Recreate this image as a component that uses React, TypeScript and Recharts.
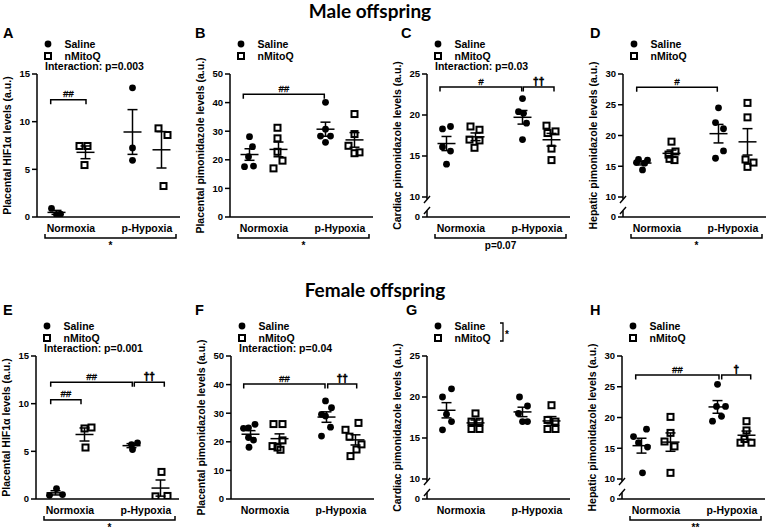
import React from 'react';
import { ScatterChart, Scatter, XAxis, YAxis, ErrorBar, ReferenceLine } from 'recharts';

const categories = ['Normoxia', 'p-Hypoxia'];
const treatments = ['Saline', 'nMitoQ'];

// Each array: [Normoxia values, p-Hypoxia values]
// A – male placental HIF1α
const maleHifSaline = [[0.9, 0.25, 0.3], [13.55, 7.25, 5.95]];
const maleHifMitoQ = [[7.45, 7.45, 5.45], [9.3, 8.6, 3.25]];
// B – male placental pimonidazole
const malePlacPimoSaline = [[28.1, 24.6, 21.1, 17.6, 17.8], [40.1, 30.7, 28.3, 28.3, 26.1]];
const malePlacPimoMitoQ = [[31.2, 27.5, 22.8, 19.7, 17.0], [36.0, 29.0, 24.9, 22.3, 22.6]];
// C – male cardiac pimonidazole
const maleCardPimoSaline = [[18.3, 18.6, 16.1, 15.6, 14.0], [22.0, 20.4, 20.2, 19.0, 17.0]];
const maleCardPimoMitoQ = [[18.6, 18.2, 17.0, 16.9, 16.0], [18.7, 18.0, 17.8, 15.9, 14.5]];
// D – male hepatic pimonidazole
const maleHepPimoSaline = [[16.1, 16.0, 15.6, 15.5, 14.4], [24.5, 22.1, 21.1, 17.5, 16.3]];
const maleHepPimoMitoQ = [[19.0, 17.4, 16.9, 16.2, 16.0], [25.3, 22.95, 16.1, 15.6, 14.9]];
// E – female placental HIF1α
const femaleHifSaline = [[0.39, 1.09, 0.46], [5.71, 5.89, 5.19]];
const femaleHifMitoQ = [[7.4, 7.5, 5.4], [2.84, 0.28, 0.32]];
// F – female placental pimonidazole
const femalePlacPimoSaline = [[26.1, 24.9, 24.7, 21.5, 20.6, 18.1], [34.3, 31.9, 29.6, 29.0, 25.1, 22.0]];
const femalePlacPimoMitoQ = [[26.2, 26.2, 20.5, 18.5, 18.0, 17.2], [26.6, 24.2, 21.8, 19.1, 17.3, 15.0]];
// G – female cardiac pimonidazole
const femaleCardPimoSaline = [[21.0, 20.0, 17.9, 17.0, 16.0], [20.0, 18.9, 18.0, 17.0, 17.0]];
const femaleCardPimoMitoQ = [[18.0, 17.0, 17.0, 16.1, 16.1], [19.0, 17.2, 17.0, 16.1, 16.1]];
// H – female hepatic pimonidazole
const femaleHepPimoSaline = [[18.1, 16.9, 15.9, 15.2, 11.0], [25.4, 21.8, 21.8, 20.2, 19.4]];
const femaleHepPimoMitoQ = [[20.1, 17.5, 16.1, 15.3, 11.0], [19.4, 17.9, 16.5, 15.9, 15.9]];

// horizontal scatter (jitter) of the individual points
const jitA = { s: [[-5, 0, 4], [0, 0, 0]], m: [[-6, 2, -1], [-3, 6, 2]] };
const jitB = { s: [[0, 3, -1, -5, 4], [0, 0, -5, 5, 0]], m: [[-1, -1, -1, 4, -5], [0, 0, -6, 0, 5]] };
const jitC = { s: [[-4, 4, -4, 4, 0], [0, -4, 1, 4, 0]], m: [[-5, 4, -6, 4, -1], [-5, 4, -4, 0, 0]] };
const jitD = { s: [[-4, 5, -6, 2, 0], [0, -3, 5, 5, -3]], m: [[0, 4, -3, -2, 3], [0, 0, -2, 6, 0]] };
const jitE = { s: [[-6, 1, 7], [0, 6, 1]], m: [[0, 7, 1], [1, -5, 7]] };
const jitF = { s: [[4.5, -2, -7, -2, 3, -1.5], [-1, 5, -5, -1, 4, -5]], m: [[-6, 3, 3, -7, -2, 1], [3, -10, -6, 6, 1, -5]] };
const jitG = { s: [[5, -4, 0, 5, -4], [-3, 5, -4, 0, 5]], m: [[0, -4, 4, -4, 4], [0, -4, 4, -4, 4]] };
const jitH = { s: [[5, -8, -3, 6, 1], [0, -1, 8, 4, -5]], m: [[0, 0, -6, 4, 0], [0, 0, -2, -6, 5]] };

const FONT = '"Liberation Sans", Arial, Helvetica, sans-serif';
const PLOT_W = 143;
const PLOT_H = 143;
const YAXIS_W = 36;
const TOP = 10;
const XAXIS_H = 42;
const RIGHT = 4;
const CHART_W = YAXIS_W + PLOT_W + RIGHT;
const CHART_H = TOP + PLOT_H + XAXIS_H;
const CAT_X = [34, 110];
const SHIFT = [-14.5, 14.5];

type Bracket = { x1: number; x2: number; y: number; text: string };
type PanelCfg = {
  letter: string;
  letterX: number;
  axisX: number;
  plotTop: number;
  domain: [number, number];
  ticks: number[];
  broken: boolean;
  yLabel: string;
  interaction?: string;
  saline: number[][];
  mitoq: number[][];
  jit: { s: number[][]; m: number[][] };
  brackets: Bracket[];
  bottom?: string;
  legendStar?: boolean;
};

const panels: PanelCfg[] = [
  {
    letter: 'A', letterX: 3, axisX: 37, plotTop: 74, domain: [0, 15], ticks: [0, 5, 10, 15], broken: false,
    yLabel: 'Placental HIF1α levels (a.u.)', interaction: 'Interaction: p=0.003',
    saline: maleHifSaline, mitoq: maleHifMitoQ, jit: jitA,
    brackets: [{ x1: 13.7, x2: 49, y: 12.3, text: '##' }], bottom: '*',
  },
  {
    letter: 'B', letterX: 195, axisX: 230, plotTop: 74, domain: [0, 50], ticks: [0, 10, 20, 30, 40, 50], broken: false,
    yLabel: 'Placental pimonidazole levels (a.u.)',
    saline: malePlacPimoSaline, mitoq: malePlacPimoMitoQ, jit: jitB,
    brackets: [{ x1: 13.3, x2: 94.3, y: 42.9, text: '##' }], bottom: '*',
  },
  {
    letter: 'C', letterX: 401, axisX: 427, plotTop: 74, domain: [7.56, 25], ticks: [7.56, 10, 15, 20, 25], broken: true,
    yLabel: 'Cardiac pimonidazole levels (a.u.)', interaction: 'Interaction: p=0.03',
    saline: maleCardPimoSaline, mitoq: maleCardPimoMitoQ, jit: jitC,
    brackets: [{ x1: 13, x2: 94.7, y: 23.4, text: '#' }, { x1: 96.3, x2: 127, y: 23.4, text: '††' }], bottom: 'p=0.07',
  },
  {
    letter: 'D', letterX: 590, axisX: 623, plotTop: 74, domain: [6.75, 30], ticks: [6.75, 10, 15, 20, 25, 30], broken: true,
    yLabel: 'Hepatic pimonidazole levels (a.u.)',
    saline: maleHepPimoSaline, mitoq: maleHepPimoMitoQ, jit: jitD,
    brackets: [{ x1: 13.7, x2: 94.3, y: 27.85, text: '#' }], bottom: '*',
  },
  {
    letter: 'E', letterX: 3, axisX: 36, plotTop: 356, domain: [0, 15], ticks: [0, 5, 10, 15], broken: false,
    yLabel: 'Placental HIF1α levels (a.u.)', interaction: 'Interaction: p=0.001',
    saline: femaleHifSaline, mitoq: femaleHifMitoQ, jit: jitE,
    brackets: [
      { x1: 14.7, x2: 96.3, y: 12.25, text: '##' },
      { x1: 14.7, x2: 45, y: 10.4, text: '##' },
      { x1: 98.3, x2: 128.3, y: 12.25, text: '††' },
    ],
    bottom: '*',
  },
  {
    letter: 'F', letterX: 195, axisX: 231, plotTop: 356, domain: [0, 50], ticks: [0, 10, 20, 30, 40, 50], broken: false,
    yLabel: 'Placental pimonidazole levels (a.u.)', interaction: 'Interaction: p=0.04',
    saline: femalePlacPimoSaline, mitoq: femalePlacPimoMitoQ, jit: jitF,
    brackets: [{ x1: 12.7, x2: 94, y: 40.2, text: '##' }, { x1: 96.7, x2: 125.7, y: 40.2, text: '††' }],
  },
  {
    letter: 'G', letterX: 406, axisX: 427, plotTop: 356, domain: [7.56, 25], ticks: [7.56, 10, 15, 20, 25], broken: true,
    yLabel: 'Cardiac pimonidazole levels (a.u.)',
    saline: femaleCardPimoSaline, mitoq: femaleCardPimoMitoQ, jit: jitG,
    brackets: [], legendStar: true,
  },
  {
    letter: 'H', letterX: 590, axisX: 622, plotTop: 356, domain: [6.75, 30], ticks: [6.75, 10, 15, 20, 25, 30], broken: true,
    yLabel: 'Hepatic pimonidazole levels (a.u.)',
    saline: femaleHepPimoSaline, mitoq: femaleHepPimoMitoQ, jit: jitH,
    brackets: [{ x1: 13.7, x2: 97, y: 26.9, text: '##' }, { x1: 99.7, x2: 128.7, y: 26.9, text: '†' }], bottom: '**',
  },
];

function toPoints(values: number[][], jitter: number[][], t: number) {
  const out: { x: number; y: number }[] = [];
  values.forEach((vals, c) =>
    vals.forEach((v, i) => out.push({ x: CAT_X[c] + SHIFT[t] + (jitter[c][i] ?? 0), y: v }))
  );
  return out;
}

function toMeans(values: number[][], t: number) {
  return values.map((vals, c) => {
    const n = vals.length;
    const m = vals.reduce((a, b) => a + b, 0) / n;
    const sd = Math.sqrt(vals.reduce((a, b) => a + (b - m) * (b - m), 0) / (n - 1));
    return { x: CAT_X[c] + SHIFT[t], y: m, sem: sd / Math.sqrt(n) };
  });
}

const DotShape = (p: any) => <circle cx={p.cx} cy={p.cy} r={3.4} fill="#000" />;
const SquareShape = (p: any) => (
  <rect x={p.cx - 3} y={p.cy - 3} width={6} height={6} fill="none" stroke="#000" strokeWidth={2} />
);
const MeanShape = (p: any) => (
  <line x1={p.cx - 9} x2={p.cx + 9} y1={p.cy} y2={p.cy} stroke="#000" strokeWidth={1.5} />
);

const UpperAxis = (s: any) => (
  <g>
    <line x1={s.x1} y1={s.y1 + 2} x2={s.x2} y2={s.y2} stroke="#000" strokeWidth={1.5} />
    <line x1={s.x1 - 3} y1={s.y1 + 6} x2={s.x1 + 3} y2={s.y1 - 1} stroke="#000" strokeWidth={1.4} />
  </g>
);
const LowerAxis = (s: any) => (
  <g>
    <line x1={s.x1} y1={s.y1} x2={s.x1} y2={s.y1 - 6} stroke="#000" strokeWidth={1.5} />
    <line x1={s.x1 - 3} y1={s.y1 - 3} x2={s.x1 + 3} y2={s.y1 - 10} stroke="#000" strokeWidth={1.4} />
  </g>
);

const makeBracket = (text: string) => (s: any) => {
  const dagger = text.includes('†');
  return (
    <g>
      <path
        d={`M${s.x1},${s.y1 + 4.5}V${s.y1}H${s.x2}V${s.y2 + 4.5}`}
        fill="none"
        stroke="#000"
        strokeWidth={1.5}
      />
      <text
        x={(s.x1 + s.x2) / 2}
        y={s.y1 - 2.5}
        textAnchor="middle"
        fontSize={dagger ? 10 : 9.5}
        fontWeight={dagger ? 700 : 400}
        fontStyle={dagger ? 'normal' : 'italic'}
        fontFamily={FONT}
        fill="#000"
        stroke="#000"
        strokeWidth={dagger ? 0.6 : 0.3}
        style={{ WebkitFontSmoothing: 'antialiased' }}
      >
        {text}
      </text>
    </g>
  );
};

const makeBottomBracket = (text: string) => (s: any) => (
  <g>
    <path
      d={`M${s.x1},${s.y1 + 17}V${s.y1 + 21}H${s.x2}V${s.y2 + 17}`}
      fill="none"
      stroke="#000"
      strokeWidth={1.5}
    />
    <text x={(s.x1 + s.x2) / 2} y={s.y1 + 31.5} textAnchor="middle" fontSize={10} fontWeight={700} fontFamily={FONT} fill="#000">
      {text}
    </text>
  </g>
);

function Panel({ p }: { p: PanelCfg }) {
  const salinePts = toPoints(p.saline, p.jit.s, 0);
  const mitoqPts = toPoints(p.mitoq, p.jit.m, 1);
  const means = [...toMeans(p.saline, 0), ...toMeans(p.mitoq, 1)];
  const axisStyle = { stroke: '#000', strokeWidth: 1.5 };
  return (
    <div style={{ position: 'absolute', left: p.axisX - YAXIS_W, top: p.plotTop - TOP }}>
      <ScatterChart width={CHART_W} height={CHART_H} margin={{ top: TOP, right: RIGHT, bottom: 0, left: 0 }}>
        <XAxis
          type="number"
          dataKey="x"
          domain={[0, PLOT_W]}
          allowDataOverflow
          ticks={CAT_X}
          interval={0}
          tickFormatter={(v: number) => categories[CAT_X.indexOf(v)] ?? ''}
          tickLine={false}
          axisLine={axisStyle}
          height={XAXIS_H}
          tick={{ fill: '#000', fontSize: 10.5, fontWeight: 700, fontFamily: FONT }}
        />
        <YAxis
          type="number"
          dataKey="y"
          domain={p.domain}
          allowDataOverflow
          ticks={p.ticks}
          interval={0}
          tickFormatter={(v: number) => (p.broken && v < 10 ? '0' : String(v))}
          width={YAXIS_W}
          tickSize={5}
          tickLine={axisStyle}
          axisLine={p.broken ? false : axisStyle}
          tick={{ fill: '#000', fontSize: 9.5, fontWeight: 700, fontFamily: FONT }}
        />
        {p.broken && (
          <ReferenceLine
            segment={[{ x: 0, y: 10 }, { x: 0, y: p.domain[1] }]}
            ifOverflow="visible"
            shape={UpperAxis}
          />
        )}
        {p.broken && (
          <ReferenceLine
            segment={[{ x: 0, y: p.domain[0] }, { x: 0, y: p.domain[0] }]}
            ifOverflow="visible"
            shape={LowerAxis}
          />
        )}
        <Scatter name={treatments[0]} data={salinePts} shape={DotShape} isAnimationActive={false} />
        <Scatter name={treatments[1]} data={mitoqPts} shape={SquareShape} isAnimationActive={false} />
        <Scatter name="mean" data={means} shape={MeanShape} isAnimationActive={false}>
          <ErrorBar dataKey="sem" direction="y" width={5} stroke="#000" strokeWidth={1.5} isAnimationActive={false} />
        </Scatter>
        {p.brackets.map((b, i) => (
          <ReferenceLine
            key={i}
            segment={[{ x: b.x1, y: b.y }, { x: b.x2, y: b.y }]}
            ifOverflow="visible"
            shape={makeBracket(b.text)}
          />
        ))}
        {p.bottom && (
          <ReferenceLine
            segment={[{ x: 8, y: p.domain[0] }, { x: 139, y: p.domain[0] }]}
            ifOverflow="visible"
            shape={makeBottomBracket(p.bottom)}
          />
        )}
      </ScatterChart>
    </div>
  );
}

function Overlay() {
  const txt = { fontFamily: FONT, fontWeight: 700, fill: '#000' } as const;
  return (
    <svg width={767} height={528} style={{ position: 'absolute', left: 0, top: 0, pointerEvents: 'none' }}>
      <text x={370} y={18} textAnchor="middle" fontFamily="Lato, 'Open Sans', sans-serif" fontWeight={700} fontSize={19} fill="#000">
        Male offspring
      </text>
      <text x={375} y={297} textAnchor="middle" fontFamily="Lato, 'Open Sans', sans-serif" fontWeight={700} fontSize={19} fill="#000">
        Female offspring
      </text>
      {panels.map((p) => {
        const t = p.plotTop;
        return (
          <g key={p.letter}>
            <text x={p.letterX} y={t < 200 ? 38 : 315} fontSize={14.5} {...txt}>
              {p.letter}
            </text>
            <circle cx={p.axisX + 11} cy={t - 30} r={3.4} fill="#000" />
            <text x={p.axisX + 27.5} y={t - 30 + 3.7} fontSize={10.5} {...txt}>
              {treatments[0]}
            </text>
            <rect x={p.axisX + 8} y={t - 21} width={6} height={6} fill="none" stroke="#000" strokeWidth={2} />
            <text x={p.axisX + 27.5} y={t - 18 + 3.7} fontSize={10.5} {...txt}>
              {treatments[1]}
            </text>
            {p.interaction && (
              <text x={p.axisX + 8} y={t - 7.5 + 3.7} fontSize={10.5} {...txt}>
                {p.interaction}
              </text>
            )}
            {p.legendStar && (
              <g>
                <path
                  d={`M${p.axisX + 73},${t - 33}H${p.axisX + 76}V${t - 15}H${p.axisX + 73}`}
                  fill="none"
                  stroke="#000"
                  strokeWidth={1.3}
                />
                <text x={p.axisX + 78} y={t - 18} fontSize={10} {...txt}>
                  *
                </text>
              </g>
            )}
            <text
              transform={`translate(${p.axisX - 30},${t + PLOT_H / 2}) rotate(-90)`}
              textAnchor="middle"
              dominantBaseline="central"
              fontSize={10.5}
              {...txt}
            >
              {p.yLabel}
            </text>
          </g>
        );
      })}
    </svg>
  );
}

export default function App() {
  return (
    <div
      style={{
        position: 'absolute',
        left: 0,
        top: 0,
        width: 767,
        height: 528,
        overflow: 'hidden',
        background: '#fff',
      }}
    >
      {panels.map((p) => (
        <Panel key={p.letter} p={p} />
      ))}
      <Overlay />
    </div>
  );
}
